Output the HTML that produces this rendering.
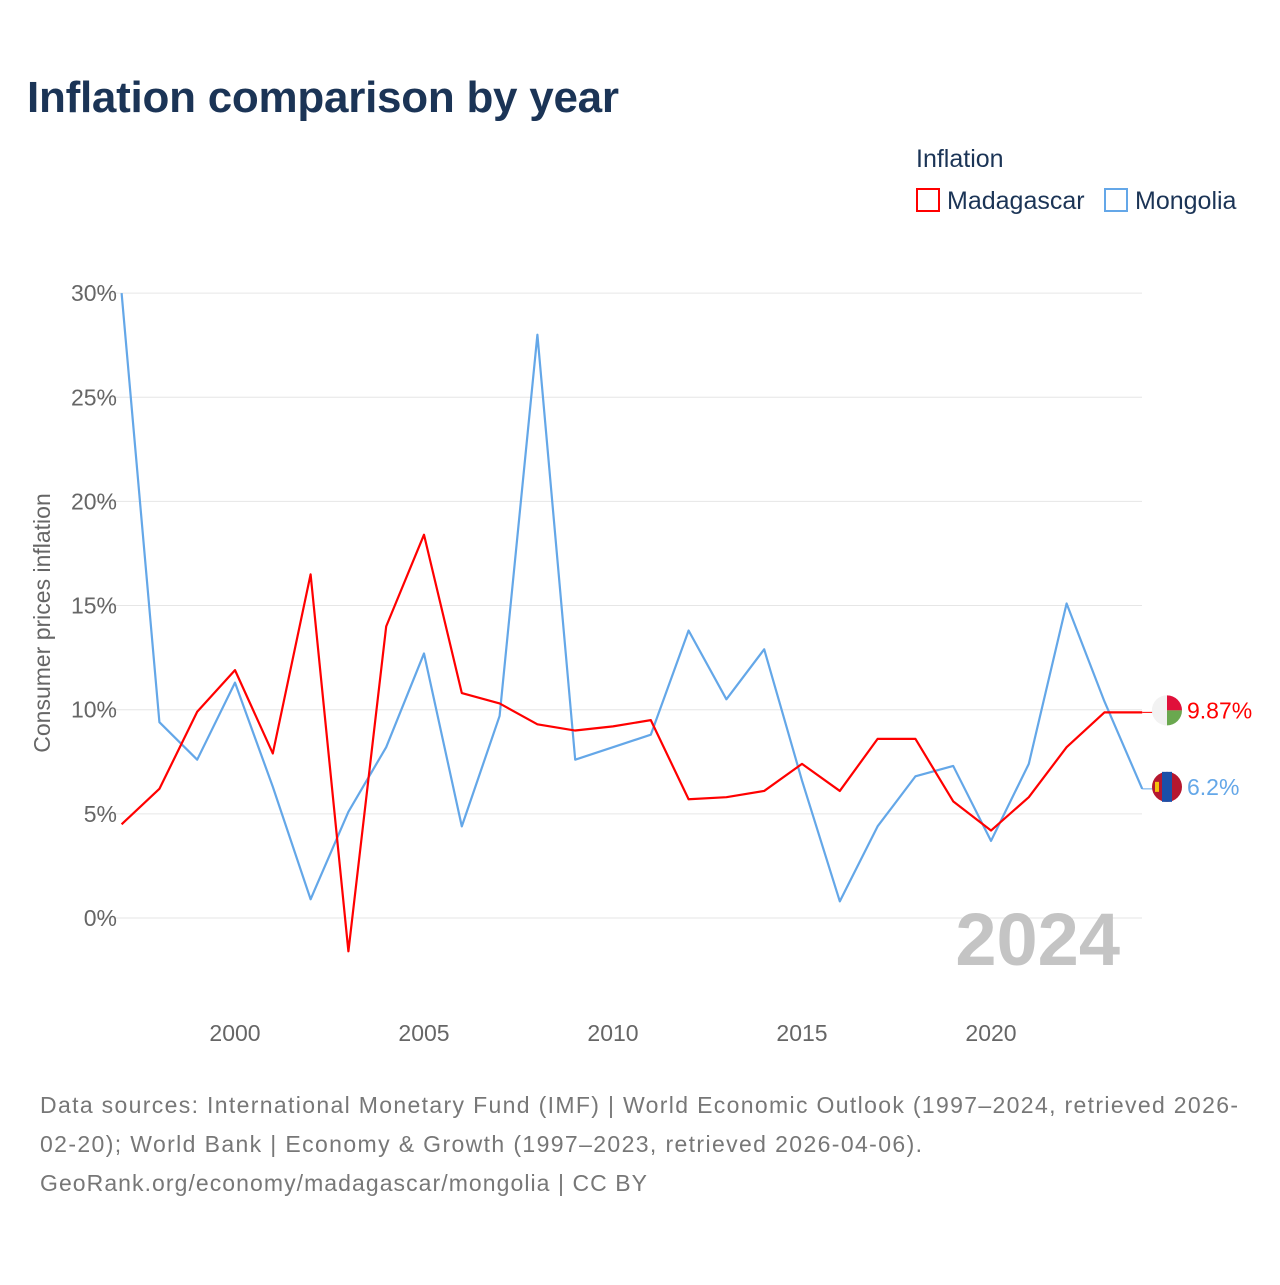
<!DOCTYPE html>
<html><head><meta charset="utf-8"><style>
body{margin:0;background:#fff;font-family:"Liberation Sans",sans-serif;}
svg text{font-family:"Liberation Sans",sans-serif;}
</style></head><body>
<svg id="c" width="1280" height="1280" xmlns="http://www.w3.org/2000/svg">
<text x="27" y="112" font-size="44" font-weight="bold" fill="#1b3456" textLength="592">Inflation comparison by year</text>
<text x="916" y="167" font-size="25" fill="#1b3456">Inflation</text>
<g><rect x="917" y="189" width="22" height="22" fill="none" stroke="#f00" stroke-width="2"/><text x="947" y="209" font-size="25" fill="#1b3456">Madagascar</text></g>
<g><rect x="1105" y="189" width="22" height="22" fill="none" stroke="#64a7e8" stroke-width="2"/><text x="1135" y="209" font-size="25" fill="#1b3456">Mongolia</text></g>
<text transform="translate(50,623) rotate(-90)" text-anchor="middle" font-size="23" fill="#666">Consumer prices inflation</text>
<g id="grid"></g><g id="lines"></g>
<text x="1120" y="965" text-anchor="end" font-size="74" font-weight="bold" fill="#c4c4c4">2024</text>
<text x="40" y="1113" font-size="23" fill="#777" textLength="1198">Data sources: International Monetary Fund (IMF) | World Economic Outlook (1997–2024, retrieved 2026-</text>
<text x="40" y="1152" font-size="23" fill="#777" textLength="882">02-20); World Bank | Economy &amp; Growth (1997–2023, retrieved 2026-04-06).</text>
<text x="40" y="1191" font-size="23" fill="#777" textLength="607">GeoRank.org/economy/madagascar/mongolia | CC BY</text>
</svg>
<script>
const years=[1997,1998,1999,2000,2001,2002,2003,2004,2005,2006,2007,2008,2009,2010,2011,2012,2013,2014,2015,2016,2017,2018,2019,2020,2021,2022,2023,2024];
const madagascar=[4.5,6.2,9.9,11.9,7.9,16.5,-1.6,14.0,18.4,10.8,10.3,9.3,9.0,9.2,9.5,5.7,5.8,6.1,7.4,6.1,8.6,8.6,5.6,4.2,5.8,8.2,9.87,9.87];
const mongolia=[30.0,9.4,7.6,11.3,6.3,0.9,5.1,8.2,12.7,4.4,9.7,28.0,7.6,8.2,8.8,13.8,10.5,12.9,6.6,0.8,4.4,6.8,7.3,3.7,7.4,15.1,10.4,6.2];
const yTicks=[0,5,10,15,20,25,30];
const xTicks=[2000,2005,2010,2015,2020];
const NS="http://www.w3.org/2000/svg";
const X=y=>121.6+(y-1997)*37.8;
const Y=v=>918-v*20.83;
function mk(t,a,p){const e=document.createElementNS(NS,t);for(const k in a)e.setAttribute(k,a[k]);p.appendChild(e);return e;}
const grid=document.getElementById('grid'),lines=document.getElementById('lines');
yTicks.forEach(v=>{
 const l=mk('line',{x1:96,x2:1142,y1:Y(v),y2:Y(v),stroke:'#e6e6e6','stroke-width':1},grid);
 
 
 const t=mk('text',{x:117,y:Y(v)+8,'text-anchor':'end','font-size':23,fill:'#666'},grid);t.textContent=v+'%';
 
 
});
xTicks.forEach(v=>{
 const t=mk('text',{x:X(v),y:1041,'text-anchor':'middle','font-size':23,fill:'#666'},grid);t.textContent=v;
 
 
});
function series(vals,color,name,label,flag){
 const p=mk('polyline',{points:vals.map((v,i)=>X(years[i])+','+Y(v)).join(' '),fill:'none',stroke:color,'stroke-width':2.2,'stroke-linejoin':'round'},lines);
 
 
 const last=vals[vals.length-1];
 const ex=mk('line',{x1:X(2024),x2:1160,y1:Y(last),y2:Y(last),stroke:color,'stroke-width':1},lines);
 
 
 const g=mk('g',{},lines);
 
 
 const cy=Y(last)-2;
 if(flag==='mg'){
  mk('circle',{cx:1167,cy:cy,r:15,fill:'#eee'},g);
  mk('path',{d:`M1167 ${cy} H1182 A15 15 0 0 0 1167 ${cy-15}Z`,fill:'#e0103a'},g);
  mk('path',{d:`M1167 ${cy} H1182 A15 15 0 0 1 1167 ${cy+15}Z`,fill:'#6aa84f'},g);
  mk('path',{d:`M1167 ${cy-15} A15 15 0 0 0 1167 ${cy+15}Z`,fill:'#f2f2f2'},g);
 }else{
  mk('circle',{cx:1167,cy:cy,r:15,fill:'#b5172f'},g);
  mk('rect',{x:1162,y:cy-15,width:10,height:30,fill:'#1b4fa8'},g);
  mk('rect',{x:1155,y:cy-5,width:4,height:10,fill:'#f4c20d'},g);
 }
 const t=mk('text',{x:1187,y:cy+8,'font-size':23,fill:color},lines);t.textContent=label;
 
 
}
series(mongolia,'#64a7e8','mongolia','6.2%','mn');
series(madagascar,'#f00','madagascar','9.87%','mg');
</script>
</body></html>
